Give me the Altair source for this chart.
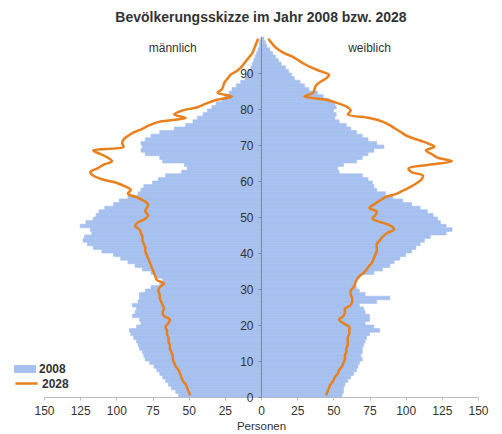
import altair as alt
import pandas as pd

ages = list(range(100))

male_2008 = [57, 59, 62, 64, 66, 68, 70, 72, 74, 77,
             80, 81, 82, 84, 85, 86, 88, 90, 91, 86,
             83, 84, 89, 87, 86, 89, 85, 84, 84, 80,
             76, 70, 68, 72, 76, 82, 87, 92, 97, 102,
             110, 116, 120, 123, 122, 117, 118, 125, 121, 116,
             114, 112, 108, 102, 98, 92, 85, 83, 81, 75,
             71, 66, 55, 51, 53, 68, 70, 80, 83, 82,
             83, 80, 76, 70, 60, 52, 47, 44, 40, 37,
             34, 31, 27, 25, 22, 20, 17, 14, 11, 10,
             9, 7, 6, 5, 4, 3, 2, 1, 1, 0]

female_2008 = [56, 57, 57, 58, 60, 62, 64, 66, 67, 68,
               70, 69, 70, 70, 71, 72, 73, 75, 82, 78,
               72, 75, 75, 72, 71, 68, 80, 89, 72, 68,
               66, 64, 65, 68, 78, 84, 89, 92, 96, 100,
               104, 107, 110, 113, 117, 128, 132, 128, 124, 122,
               119, 115, 110, 104, 98, 91, 86, 80, 78, 77,
               74, 70, 54, 53, 57, 66, 70, 74, 78, 85,
               80, 74, 70, 66, 62, 59, 54, 51, 52, 50,
               52, 51, 47, 43, 39, 33, 30, 27, 23, 21,
               19, 17, 14, 12, 10, 8, 6, 4, 3, 2]

male_2028 = [49, 50, 51, 52, 54, 55, 56, 57, 59, 60,
             61, 61, 62, 63, 63, 64, 64, 65, 65, 66,
             64, 63, 67, 68, 67, 68, 69, 70, 70, 71,
             70, 67, 72, 73, 74, 75, 76, 77, 78, 79,
             80, 80, 81, 82, 82, 83, 84, 87, 85, 80,
             78, 80, 79, 78, 81, 86, 92, 90, 94, 100,
             110, 116, 118, 113, 109, 103, 106, 111, 116, 95,
             96, 95, 92, 88, 82, 77, 70, 52, 60, 55,
             44, 38, 31, 20, 30, 27, 26, 25, 23, 21,
             17, 14, 12, 10, 8, 6, 5, 4, 3, 2]

female_2028 = [45, 46, 47, 48, 50, 51, 53, 54, 56, 57,
               58, 58, 59, 59, 60, 60, 60, 61, 61, 61,
               57, 54, 57, 58, 58, 62, 63, 63, 62, 62,
               64, 65, 66, 68, 71, 73, 75, 77, 78, 79,
               80, 80, 80, 82, 84, 87, 92, 90, 83, 77,
               79, 80, 75, 78, 82, 86, 94, 99, 104, 108,
               111, 112, 104, 102, 116, 132, 122, 118, 114, 120,
               115, 108, 101, 97, 93, 89, 84, 75, 60, 62,
               60, 54, 46, 30, 36, 37, 38, 41, 45, 47,
               41, 35, 30, 26, 22, 16, 12, 9, 7, 5]

sex_labels = ["männlich", "weiblich"]
sex_label_x = [-61, 75]
sex_label_y = [97, 97]

x_ticks = [-150, -125, -100, -75, -50, -25, 0, 25, 50, 75, 100, 125, 150]
y_ticks = [0, 10, 20, 30, 40, 50, 60, 70, 80, 90]

BLUE = "#a6c0ef"
ORANGE = "#e8801e"

bars = pd.DataFrame({
    "age": ages * 2,
    "age_top": [a + 1 for a in ages] * 2,
    "value": [-v for v in male_2008] + female_2008,
    "zero": [0] * 200,
    "jahr": ["2008"] * 200,
})

lines = pd.DataFrame({
    "age": [a + 0.5 for a in ages] * 2,
    "value": [-v for v in male_2028] + female_2028,
    "sex": ["m"] * 100 + ["w"] * 100,
    "jahr": ["2028"] * 200,
})

labels = pd.DataFrame({"text": sex_labels, "value": sex_label_x, "age": sex_label_y})

xscale = alt.Scale(domain=[-150, 150], nice=False, zero=False)
yscale = alt.Scale(domain=[0, 100], nice=False, zero=False)

x_axis = alt.Axis(
    values=x_ticks, labelExpr="abs(datum.value)", title="Personen",
    grid=False, labelFontSize=12, labelColor="#333", titleFontSize=11.5,
    titleFontWeight="normal", titleColor="#333", titlePadding=4,
    domainColor="#bbb", tickColor="#bbb", tickSize=3, labelPadding=5,
    labelFont="Liberation Sans", titleFont="Liberation Sans",
    labelOverlap=False, labelFlush=False,
)

y_axis = alt.Axis(
    values=y_ticks, title=None, grid=False, offset=-217, zindex=1,
    labelFontSize=12, labelColor="#333", domainColor="#7a8a9a",
    tickColor="#7a8a9a", tickSize=3, labelPadding=5,
    labelFont="Liberation Sans", labelOverlap=False, labelFlush=False,
)

X = alt.X("value:Q", scale=xscale, axis=x_axis)
Y = alt.Y("age:Q", scale=yscale, axis=y_axis)

LEG_PATH = "M-1.4,-0.5H1.4V0.5H-1.4Z"
LINE_PATH = "M-1.4,0H1.4"

bar_layer = alt.Chart(bars).mark_rect(stroke=BLUE, strokeWidth=0.6).encode(
    x=X,
    x2="zero:Q",
    y=Y,
    y2="age_top:Q",
    fill=alt.Fill("jahr:N", scale=alt.Scale(domain=["2008"], range=[BLUE]),
                  legend=alt.Legend(
                      title=None, orient="none", legendX=-27, legendY=324,
                      symbolType=LEG_PATH, symbolSize=250,
                      symbolStrokeWidth=0, labelFontSize=12, labelFontWeight="bold",
                      labelColor="#333", labelFont="Liberation Sans", labelOffset=6)),
)

line_layer = alt.Chart(lines).mark_line(strokeWidth=2.5, interpolate="catmull-rom").encode(
    x=X,
    y=Y,
    detail="sex:N",
    order="age:Q",
    stroke=alt.Stroke("jahr:N", scale=alt.Scale(domain=["2028"], range=[ORANGE]),
                      legend=alt.Legend(
                          title=None, orient="none", legendX=-27, legendY=337,
                          symbolType=LINE_PATH, symbolSize=250, symbolStrokeWidth=2.5,
                          labelFontSize=12, labelFontWeight="bold",
                          labelColor="#333", labelFont="Liberation Sans", labelOffset=6)),
)

text_layer = alt.Chart(labels).mark_text(
    fontSize=12, color="#333", font="Liberation Sans"
).encode(
    x=X, y=Y, text="text:N"
)

chart = alt.layer(bar_layer, line_layer, text_layer).resolve_scale(
    fill="independent", stroke="independent"
).properties(
    width=434,
    height=360,
    title=alt.TitleParams(
        "Bevölkerungsskizze im Jahr 2008 bzw. 2028",
        fontSize=14, font="Liberation Sans", fontWeight="bold",
        color="#333", anchor="middle", offset=9,
    ),
    autosize=alt.AutoSizeParams(type="none"),
    padding={"left": 36, "top": 29, "right": 16, "bottom": 36},
).configure_view(stroke=None).configure_axis(labelOverlap=False)

chart.save("out.html", embed_options={"renderer": "svg", "actions": False})
